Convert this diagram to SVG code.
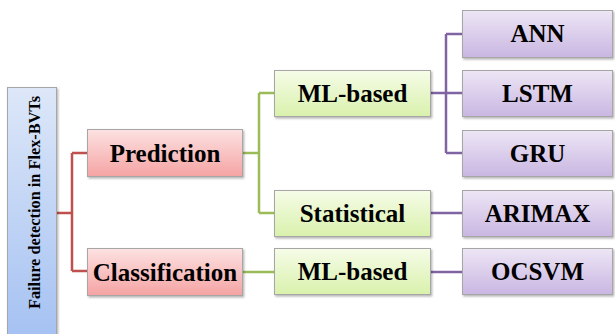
<svg xmlns="http://www.w3.org/2000/svg" width="615" height="334" viewBox="0 0 615 334">
  <defs>
    <linearGradient id="gBlue" x1="0" y1="0" x2="0" y2="1">
      <stop offset="0" stop-color="#dde7f8"/>
      <stop offset="1" stop-color="#a3c0f2"/>
    </linearGradient>
    <linearGradient id="gRed" x1="0" y1="0" x2="0" y2="1">
      <stop offset="0" stop-color="#fde2e2"/>
      <stop offset="1" stop-color="#f5a3a3"/>
    </linearGradient>
    <linearGradient id="gGreen" x1="0" y1="0" x2="0" y2="1">
      <stop offset="0" stop-color="#f6fce8"/>
      <stop offset="1" stop-color="#d9f1ac"/>
    </linearGradient>
    <linearGradient id="gPurple" x1="0" y1="0" x2="0" y2="1">
      <stop offset="0" stop-color="#ede6f5"/>
      <stop offset="1" stop-color="#c9b6e2"/>
    </linearGradient>
    <filter id="shadow" x="-10%" y="-10%" width="130%" height="130%">
      <feDropShadow dx="1.2" dy="1.5" stdDeviation="1" flood-color="#000" flood-opacity="0.3"/>
    </filter>
  </defs>
  <style>
    .box { stroke: #a6a6a6; stroke-width: 1; filter: url(#shadow); }
    .red { fill: url(#gRed); }
    .green { fill: url(#gGreen); }
    .purple { fill: url(#gPurple); }
    .blue { fill: url(#gBlue); }
    .lbl { font-family: "Liberation Serif", "Times New Roman", serif; font-weight: bold; font-size: 25px; fill: #000; text-anchor: middle; }
    .root { font-size: 16.3px; }
    .c { fill: none; stroke-width: 2.5; }
    .cr { stroke: #c0504d; }
    .cg { stroke: #9bbb59; }
    .cp { stroke: #8064a2; }
  </style>

  <!-- connectors -->
  <g id="connectors">
    <path class="c cr" d="M57 213 H72 M72 153 V271 M72 153 H87 M72 271 H87"/>
    <path class="c cg" d="M243 153 H259 M259 93 V213 M259 93 H274 M259 213 H274 M243 272 H274"/>
    <path class="c cp" d="M431 93 H446 M446 34 V153 M446 34 H462 M446 93 H462 M446 153 H462 M431 213 H462 M431 272 H462"/>
  </g>

  <!-- root -->
  <g id="root">
    <rect class="box blue" x="7.5" y="87.5" width="49" height="260"/>
    <text class="lbl root" transform="translate(40 202.5) rotate(-90)">Failure detection in Flex-BVTs</text>
  </g>

  <!-- level 1 -->
  <g id="prediction">
    <rect class="box red" x="87.5" y="129.5" width="155" height="47"/>
    <text class="lbl" x="165" y="161.5">Prediction</text>
  </g>
  <g id="classification">
    <rect class="box red" x="87.5" y="248.5" width="155" height="47"/>
    <text class="lbl" x="165" y="280.5">Classification</text>
  </g>

  <!-- level 2 -->
  <g id="ml-based-pred">
    <rect class="box green" x="274.5" y="70.5" width="156" height="46"/>
    <text class="lbl" x="352.5" y="101.5">ML-based</text>
  </g>
  <g id="statistical">
    <rect class="box green" x="274.5" y="190.5" width="156" height="46"/>
    <text class="lbl" x="352.5" y="221.5">Statistical</text>
  </g>
  <g id="ml-based-class">
    <rect class="box green" x="274.5" y="248.5" width="156" height="46"/>
    <text class="lbl" x="352.5" y="279.5">ML-based</text>
  </g>

  <!-- level 3 -->
  <g id="ann">
    <rect class="box purple" x="462.5" y="10.5" width="150" height="47"/>
    <text class="lbl" x="537.5" y="42">ANN</text>
  </g>
  <g id="lstm">
    <rect class="box purple" x="462.5" y="70.5" width="150" height="46"/>
    <text class="lbl" x="537.5" y="101.5">LSTM</text>
  </g>
  <g id="gru">
    <rect class="box purple" x="462.5" y="130.5" width="150" height="46"/>
    <text class="lbl" x="537.5" y="161.5">GRU</text>
  </g>
  <g id="arimax">
    <rect class="box purple" x="462.5" y="190.5" width="150" height="46"/>
    <text class="lbl" x="537.5" y="221.5">ARIMAX</text>
  </g>
  <g id="ocsvm">
    <rect class="box purple" x="462.5" y="248.5" width="150" height="46"/>
    <text class="lbl" x="537.5" y="279.5">OCSVM</text>
  </g>
</svg>
